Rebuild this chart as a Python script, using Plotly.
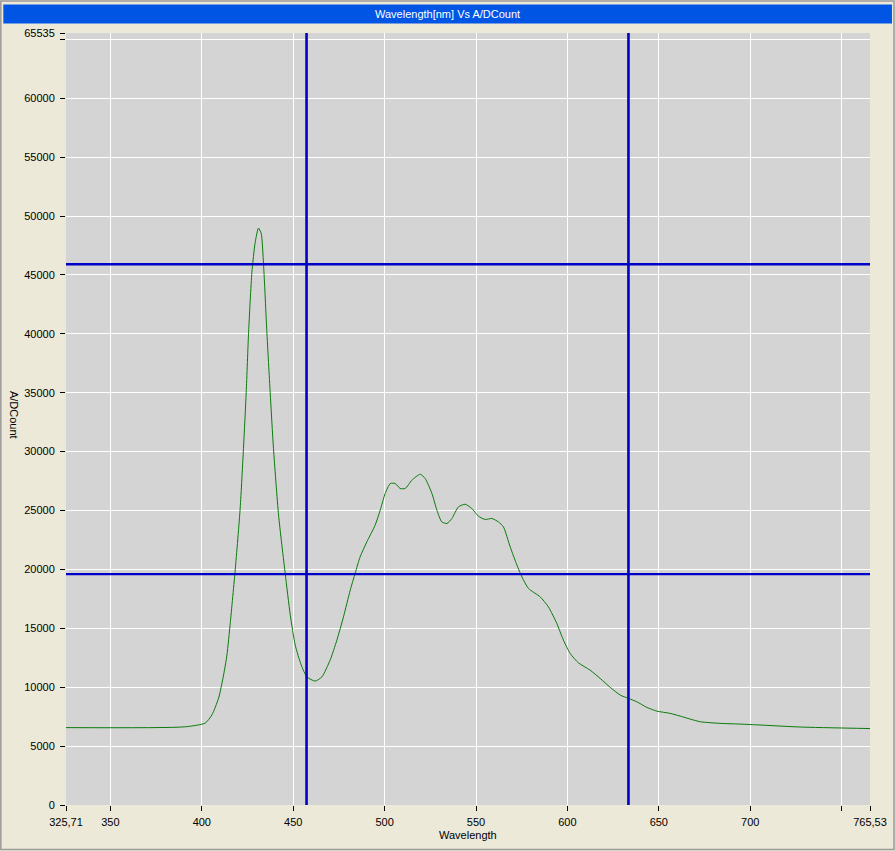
import plotly.graph_objects as go

# ---------------- data ----------------
wavelength = [325.71, 391.0, 401.9, 405.5, 409.2, 411.9, 413.75, 415.6, 418.3, 421.0,
              422.8, 424.3, 425.6, 427.4, 429.2, 431.0, 432.5, 433.8, 435.6, 437.4,
              439.2, 442.0, 445.6, 448.4, 451.1, 454.4, 457.5, 462.0, 465.7, 470.2,
              473.9, 477.5, 481.2, 483.9, 486.6, 490.3, 494.8, 497.6, 500.3, 503.1,
              505.8, 508.5, 511.3, 514.9, 519.5, 522.2, 525.9, 528.6, 531.3, 534.1,
              536.8, 540.4, 544.1, 547.7, 551.3, 555.0, 558.7, 562.3, 565.0, 568.7,
              572.4, 575.1, 578.7, 585.1, 589.6, 594.2, 597.8, 601.5, 606.0, 612.4,
              617.9, 623.4, 628.9, 633.4, 638.0, 643.4, 648.9, 656.2, 661.6, 672.6,
              683.5, 694.4, 705.4, 727.3, 765.53]
ad_count = [6570, 6640, 6960, 7640, 9080, 11030, 12730, 15500, 20000, 25200,
            30280, 35040, 40130, 45210, 47760, 48970, 48520, 45810, 40130, 35040,
            30280, 24600, 19680, 16120, 13570, 11880, 10880, 10520, 10880, 12300,
            14000, 15970, 18240, 19680, 21060, 22340, 23750, 25030, 26440, 27290,
            27290, 26870, 26870, 27570, 28080, 27710, 26440, 25030, 24030, 23900,
            24320, 25310, 25530, 25170, 24520, 24240, 24320, 24030, 23610, 21910,
            20360, 19370, 18380, 17670, 16820, 15410, 14000, 12870, 12070, 11450,
            10750, 9990, 9330, 9050, 8760, 8290, 7970, 7780, 7550, 7070,
            6930, 6870, 6790, 6620, 6490]

cursor_x = [457.3, 633.4]        # vertical cursor positions (nm)
cursor_y = [45900, 19600]        # horizontal cursor positions (A/D count)

x_min, x_max = 325.71, 765.53
y_min, y_max = 0, 65535

x_tickvals = [325.71, 350, 400, 450, 500, 550, 600, 650, 700, 750, 765.53]
x_ticktext = ["325,71", "350", "400", "450", "500", "550", "600", "650", "700", "", "765,53"]
y_tickvals = [0, 5000, 10000, 15000, 20000, 25000, 30000, 35000, 40000, 45000,
              50000, 55000, 60000, 65000, 65535]
y_ticktext = ["0", "5000", "10000", "15000", "20000", "25000", "30000", "35000", "40000",
              "45000", "50000", "55000", "60000", "", "65535"]

title_text = "Wavelength[nm] Vs A/DCount"
x_title = "Wavelength"
y_title = "A/DCount"

# ---------------- geometry ----------------
W, H = 895, 851
L, R, T, B = 65.7, 870.0, 32.5, 805.0


def px(xp):
    return (xp - L) / (R - L)


def py(yp):
    return (B - yp) / (B - T)


FONT = "Liberation Sans, Arial, sans-serif"

fig = go.Figure()

fig.add_trace(go.Scatter(
    x=wavelength, y=ad_count, mode="lines",
    line=dict(color="#0B7A0B", width=1, shape="spline", smoothing=0.6),
    hoverinfo="skip", showlegend=False))

for cx in cursor_x:
    fig.add_trace(go.Scatter(
        x=[cx, cx], y=[y_min, y_max], mode="lines",
        line=dict(color="#0000C8", width=2.6),
        hoverinfo="skip", showlegend=False))
for cy in cursor_y:
    fig.add_trace(go.Scatter(
        x=[x_min, x_max], y=[cy, cy], mode="lines",
        line=dict(color="#0000C8", width=2.4),
        hoverinfo="skip", showlegend=False))

shapes = [
    # outer window frame
    dict(type="rect", xref="paper", yref="paper",
         x0=px(0.5), x1=px(894), y0=py(0.5), y1=py(849.5),
         line=dict(color="#9A9A9A", width=1.5), fillcolor="rgba(0,0,0,0)", layer="below"),
    # title bar
    dict(type="rect", xref="paper", yref="paper",
         x0=px(3), x1=px(892), y0=py(4), y1=py(23),
         line=dict(width=0), fillcolor="#0055E5", layer="below"),
]

annotations = [
    dict(text=title_text, xref="paper", yref="paper", x=px(447), y=py(13.5),
         xanchor="center", yanchor="middle", showarrow=False,
         font=dict(family=FONT, size=11, color="white")),
    dict(text=x_title, xref="paper", yref="paper", x=px(468), y=py(835),
         xanchor="center", yanchor="middle", showarrow=False,
         font=dict(family=FONT, size=11, color="black")),
    dict(text=y_title, xref="paper", yref="paper", x=px(13), y=py(415),
         xanchor="center", yanchor="middle", showarrow=False, textangle=90,
         font=dict(family=FONT, size=11, color="black")),
]

fig.update_layout(
    width=W, height=H,
    margin=dict(l=L, r=W - R, t=T, b=H - B, pad=0),
    paper_bgcolor="#ECE9D8",
    plot_bgcolor="#D4D4D4",
    showlegend=False,
    shapes=shapes,
    annotations=annotations,
    font=dict(family=FONT, size=11, color="black"),
    hovermode=False,
)

fig.update_xaxes(
    range=[x_min, x_max], tickmode="array", tickvals=x_tickvals, ticktext=x_ticktext,
    showgrid=True, gridcolor="white", gridwidth=1,
    ticks="outside", ticklen=5, tickcolor="black", tickwidth=1,
    showline=False, zeroline=False, automargin=False, ticklabelstandoff=2,
    tickfont=dict(family=FONT, size=11, color="black"),
)
fig.update_yaxes(
    range=[y_min, y_max], tickmode="array", tickvals=y_tickvals, ticktext=y_ticktext,
    showgrid=True, gridcolor="white", gridwidth=1,
    ticks="outside", ticklen=5, tickcolor="black", tickwidth=1,
    showline=False, zeroline=False, automargin=False, ticklabelstandoff=3,
    tickfont=dict(family=FONT, size=11, color="black"),
)

fig.write_html(
    "out.html",
    config={"displayModeBar": False},
    post_script="document.body.style.margin='0';document.body.style.overflow='hidden';"
                "document.body.style.background='#ECE9D8';",
)
